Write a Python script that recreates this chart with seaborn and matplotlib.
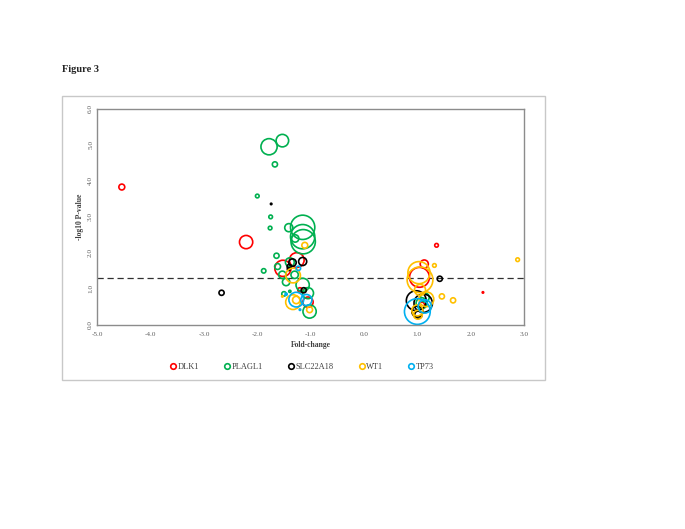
import numpy as np
import pandas as pd
import matplotlib
matplotlib.use("Agg")
import matplotlib.pyplot as plt
import seaborn as sns
from matplotlib.lines import Line2D
from matplotlib.patches import Rectangle

# values (bubble = relative bubble radius)
dlk1_x = [-4.54, -2.21, -1.52, -1.26, -1.05, -1.20, 1.36, 1.13, 2.23, 1.04, 1.08]
dlk1_y = [3.83, 2.30, 1.57, 1.80, 0.63, 0.97, 2.21, 1.69, 0.90, 1.32, 0.55]
dlk1_b = [8, 18, 22, 20, 14, 6, 5, 11, 2, 27, 8]

plagl1_x = [-1.78, -1.53, -1.67, -2.00, -1.75, -1.76, -1.41, -1.15, -1.15, -1.14,
            -1.29, -1.64, -1.88, -1.62, -1.39, -1.53, -1.46, -1.30, -1.15, -1.05,
            -1.02, -1.50, -1.39, 1.08, 1.14]
plagl1_y = [4.95, 5.12, 4.46, 3.58, 3.00, 2.69, 2.70, 2.71, 2.45, 2.31,
            2.40, 1.92, 1.50, 1.62, 1.74, 1.39, 1.19, 1.39, 1.11, 0.88,
            0.37, 0.86, 0.93, 0.60, 0.76]
plagl1_b = [22, 17, 7, 5, 5, 5, 11, 33, 33, 33,
            10, 7, 6, 8, 12, 10, 10, 10, 18, 15,
            18, 6, 3, 15, 12]

slc_x = [-2.67, -1.74, -1.34, -1.15, -1.40, -1.41, -1.13, 1.42, 0.98, 1.11, 1.00, 1.02]
slc_y = [0.89, 3.36, 1.73, 1.76, 1.62, 1.55, 0.96, 1.28, 0.67, 0.60, 0.37, 0.28]
slc_b = [7, 2, 10, 11, 6, 4, 7, 7, 27, 25, 15, 10]

wt1_x = [-1.11, -1.33, -1.33, -1.27, -1.02, -1.53, 1.05, 1.03, 1.05, 1.32,
         1.46, 1.67, 2.88, 1.17, 1.00, 1.01]
wt1_y = [2.21, 1.37, 0.63, 0.69, 0.42, 0.79, 1.25, 1.45, 0.97, 1.65,
         0.79, 0.68, 1.81, 0.71, 0.40, 0.28]
wt1_b = [8, 20, 20, 10, 8, 2, 35, 30, 15, 5,
         7, 7, 5, 20, 15, 12]

tp73_x = [-1.23, -1.27, -1.08, -1.20, -1.46, 1.00, 1.14]
tp73_y = [1.57, 0.70, 0.69, 0.42, 0.85, 0.37, 0.51]
tp73_b = [6, 20, 15, 2, 3, 35, 18]

genes = ["DLK1", "PLAGL1", "SLC22A18", "WT1", "TP73"]
colors = ["#FF0000", "#00B050", "#000000", "#FFC000", "#00B0F0"]
threshold = -np.log10(0.05)

series = {
    "DLK1": (dlk1_x, dlk1_y, dlk1_b),
    "PLAGL1": (plagl1_x, plagl1_y, plagl1_b),
    "SLC22A18": (slc_x, slc_y, slc_b),
    "WT1": (wt1_x, wt1_y, wt1_b),
    "TP73": (tp73_x, tp73_y, tp73_b),
}
frames = []
for g in genes:
    x, y, b = series[g]
    frames.append(pd.DataFrame({"fold": x, "logp": y, "bubble": b, "gene": g}))
df = pd.concat(frames, ignore_index=True)

sns.set_style("white")
plt.rcParams["font.family"] = ["Liberation Serif", "DejaVu Serif"]

fig = plt.figure(figsize=(6.85, 5.29), dpi=100)
fig.patches.append(Rectangle((0.0905, 0.2817), 0.705, 0.537, transform=fig.transFigure,
                             fill=False, edgecolor="#c8c8c8", linewidth=1.0))
fig.text(0.091, 0.869, "Figure 3", fontsize=7.5, fontweight="bold", va="center")

ax = fig.add_axes([0.142, 0.386, 0.623, 0.408])

# bubbles: one seaborn layer per gene, open circles
for g, c in zip(genes, colors):
    sub = df[df["gene"] == g].sort_values("bubble", ascending=False)
    sns.scatterplot(data=sub, x="fold", y="logp", ax=ax,
                    s=(0.53 * sub["bubble"]) ** 2, facecolor="none",
                    edgecolor=c, linewidth=1.2, legend=False)

ax.axhline(threshold, color="#303030", linestyle=(0, (5, 3)), linewidth=0.9, zorder=0)

ax.set_xlim(-5, 3)
ax.set_ylim(0, 6)
ax.set_xticks(np.arange(-5, 3.1, 1))
ax.set_yticks(np.arange(0, 6.1, 1))
ax.set_xticklabels([f"{v:.1f}" for v in np.arange(-5, 3.1, 1)])
ax.set_yticklabels([f"{v:.1f}" for v in np.arange(0, 6.1, 1)])
ax.tick_params(axis="both", labelsize=5.2, labelcolor="#606060", length=2,
               width=0.6, color="#808080", pad=3)
ax.tick_params(axis="y", length=0)
plt.setp(ax.get_yticklabels(), rotation=90, va="center")
ax.set_xlabel("Fold-change", fontsize=5.5, fontweight="bold", color="#404040", labelpad=3)
ax.set_ylabel("-log10 P-value", fontsize=5.5, fontweight="bold", color="#404040", labelpad=3)
for side in ["left", "right", "top", "bottom"]:
    ax.spines[side].set_color("#8c8c8c")
    ax.spines[side].set_linewidth(1.0)

handles = [Line2D([0], [0], marker="o", linestyle="none", markerfacecolor="none",
                  markeredgecolor=c, markeredgewidth=1.2, markersize=4) for c in colors]
fig.legend(handles, genes, loc="center", bbox_to_anchor=(0.44, 0.306), ncol=5,
           frameon=False, fontsize=6, handletextpad=0.0, columnspacing=2.9,
           handlelength=1.0, labelcolor="#404040")

fig.savefig("out.png", dpi=100)
